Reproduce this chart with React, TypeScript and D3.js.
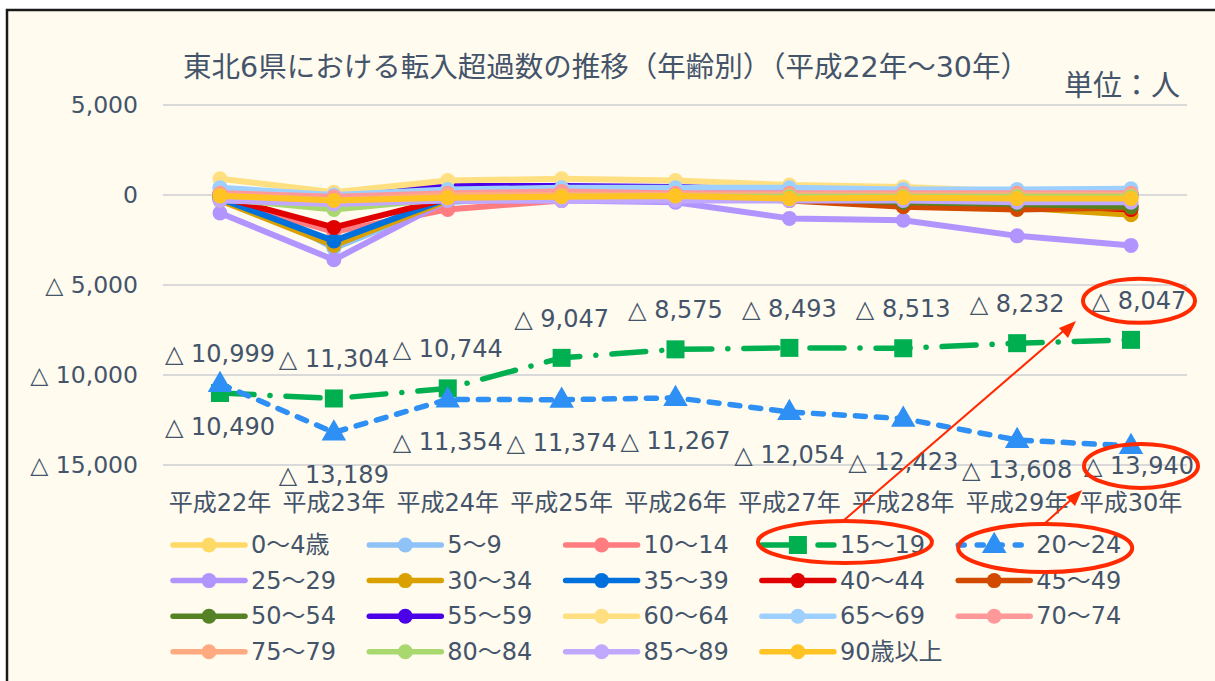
import React from "react";
import * as d3 from "d3";

// 平成22年〜30年, 東北6県の年齢別転入超過数（人）
const categories = ["平成22年", "平成23年", "平成24年", "平成25年", "平成26年", "平成27年", "平成28年", "平成29年", "平成30年"];

const age0_4 = [200, -2700, -200, 100, 100, 0, 0, -100, -200];
const age5_9 = [400, -2950, -400, 0, 100, 0, 0, 0, 0];
const age10_14 = [-200, -2050, -800, -300, -200, -100, -100, -100, -100];
const age15_19 = [-10999, -11304, -10744, -9047, -8575, -8493, -8513, -8232, -8047];
const age20_24 = [-10490, -13189, -11354, -11374, -11267, -12054, -12423, -13608, -13940];
const age25_29 = [-1000, -3600, -300, -300, -400, -1300, -1400, -2270, -2800];
const age30_34 = [-300, -2800, -300, -100, -100, -200, -400, -700, -1100];
const age35_39 = [-200, -2550, -200, -100, -100, -100, -200, -400, -600];
const age40_44 = [-100, -1800, -200, -100, -100, -100, -300, -500, -800];
const age45_49 = [-100, -600, -100, -100, -100, -300, -650, -800, -700];
const age50_54 = [-100, -400, -100, -50, -100, -200, -400, -500, -650];
const age55_59 = [100, 0, 500, 500, 450, 300, 200, 100, 100];
const age60_64 = [900, 150, 800, 900, 800, 550, 450, 200, 200];
const age65_69 = [400, 0, 300, 400, 400, 400, 300, 300, 350];
const age70_74 = [100, -100, 100, 200, 100, 100, 100, 100, 100];
const age75_79 = [0, -300, 0, 0, 0, 0, 0, 0, 0];
const age80_84 = [-200, -800, -200, -100, -100, -100, -100, -100, -100];
const age85_89 = [-300, -500, -300, -300, -300, -300, -300, -400, -400];
const age90 = [-50, -300, -150, -100, -50, -200, -150, -200, -200];

const seriesNames = ["0～4歳", "5～9", "10～14", "15～19", "20～24", "25～29", "30～34", "35～39", "40～44", "45～49", "50～54", "55～59", "60～64", "65～69", "70～74", "75～79", "80～84", "85～89", "90歳以上"];
const seriesValues = [age0_4, age5_9, age10_14, age15_19, age20_24, age25_29, age30_34, age35_39, age40_44, age45_49, age50_54, age55_59, age60_64, age65_69, age70_74, age75_79, age80_84, age85_89, age90];
const seriesColors = ["#FFD966", "#8FC3F7", "#FF7C80", "#00B050", "#2E8FF5", "#B294FF", "#D9A000", "#0070DD", "#E00000", "#D24A00", "#548224", "#4B00E8", "#FFDF80", "#9DCFFF", "#FF9999", "#FFAA80", "#A9D86E", "#C0A8FF", "#FFC423"];
const yTicks = [5000, 0, -5000, -10000, -15000];

// label nudges (the last two 20～24 labels sit higher to clear the axis)
const lowLabelDy = [51, 51, 51, 51, 51, 51, 51, 38, 28];
const labelDx = [0, 0, 0, 0, 0, 0, 0, 0, 8];

const W = 1215;
const H = 681;
const TXT = "#44546A";
const FONT = "'DejaVu Sans', 'Noto Sans CJK JP', sans-serif";
const RED = "#FF2A00";

const fmt = (v: number) => (v < 0 ? "△ " + d3.format(",")(-v) : d3.format(",")(v));

const styleOf = (i: number) => {
  if (i === 3) return { dash: "34 16 0.1 16", marker: "square" };
  if (i === 4) return { dash: "10 11", marker: "triangle" };
  return { dash: null, marker: "circle" };
};

const Marker = ({ kind, x, y, color }: { kind: string; x: number; y: number; color: string }) => {
  if (kind === "square") return <rect x={x - 9} y={y - 9} width={18} height={18} fill={color} />;
  if (kind === "triangle") {
    const tri = d3.symbol(d3.symbolTriangle, 260)();
    return <path d={tri as string} transform={`translate(${x},${y + 1})`} fill={color} />;
  }
  return <circle cx={x} cy={y} r={7.5} fill={color} />;
};

export default function App() {
  const x = d3.scalePoint().domain(categories).range([220, 1131]);
  const y = d3.scaleLinear().domain([-15000, 5000]).range([465, 105]);
  const line = d3
    .line<number>()
    .x((_, i) => x(categories[i]) as number)
    .y((d) => y(d));

  const legX = (c: number) => 173 + c * 196.3;
  const legY = (r: number) => 545 + r * 35.6;

  const last = categories.length - 1;
  const lx30 = (x(categories[last]) as number) + labelDx[last];
  const hiY = y(age15_19[last]) - 31;
  const loY = y(age20_24[last]) + lowLabelDy[last];

  return (
    <svg width={W} height={H} style={{ position: "absolute", left: 0, top: 0 }} fontFamily={FONT}>
      <rect x={0} y={0} width={W} height={H} fill="#fff" />
      <rect x={7} y={10} width={W + 20} height={H + 20} fill="#FFFBEF" stroke="#1a1a1a" strokeWidth={2.5} />

      <text x={606} y={77} textAnchor="middle" fontSize={28.5} fill={TXT}>
        東北6県における転入超過数の推移（年齢別）（平成22年～30年）
      </text>
      <text x={1180} y={96} textAnchor="end" fontSize={29} fill={TXT}>
        単位：人
      </text>

      {yTicks.map((t) => (
        <g key={t}>
          <line x1={163} x2={1187} y1={y(t)} y2={y(t)} stroke="#D9D9D9" strokeWidth={2} />
          <text x={138} y={y(t) + 8} textAnchor="end" fontSize={23.5} fill={TXT}>
            {fmt(t)}
          </text>
        </g>
      ))}

      {categories.map((c) => (
        <text key={c} x={x(c)} y={511} textAnchor="middle" fontSize={24} fill={TXT}>
          {c}
        </text>
      ))}

      {seriesNames.map((name, i) => {
        const st = styleOf(i);
        const vals = seriesValues[i];
        return (
          <g key={name}>
            <path
              d={line(vals) as string}
              fill="none"
              stroke={seriesColors[i]}
              strokeWidth={st.dash ? 5.5 : 6}
              strokeLinecap="round"
              strokeLinejoin="round"
              strokeDasharray={st.dash ?? undefined}
            />
            {vals.map((v, j) => (
              <Marker key={j} kind={st.marker} x={x(categories[j]) as number} y={y(v)} color={seriesColors[i]} />
            ))}
          </g>
        );
      })}

      {age15_19.map((v, j) => (
        <text key={"a" + j} x={(x(categories[j]) as number) + labelDx[j]} y={y(v) - 31} textAnchor="middle" fontSize={24} fill={TXT}>
          {fmt(v)}
        </text>
      ))}
      {age20_24.map((v, j) => (
        <text key={"b" + j} x={(x(categories[j]) as number) + labelDx[j]} y={y(v) + lowLabelDy[j]} textAnchor="middle" fontSize={24} fill={TXT}>
          {fmt(v)}
        </text>
      ))}

      {seriesNames.map((name, i) => {
        const c = i % 5;
        const r = Math.floor(i / 5);
        const st = styleOf(i);
        const lx = legX(c);
        const ly = legY(r);
        return (
          <g key={"leg" + name}>
            <line
              x1={lx}
              x2={lx + 72}
              y1={ly}
              y2={ly}
              stroke={seriesColors[i]}
              strokeWidth={5.5}
              strokeLinecap="round"
              strokeDasharray={st.dash ? (i === 3 ? "28 14 0.1 14" : "6 13") : undefined}
            />
            <Marker kind={st.marker} x={lx + 36} y={ly} color={seriesColors[i]} />
            <text x={lx + 78} y={ly + 8} fontSize={24} fill={TXT}>
              {name}
            </text>
          </g>
        );
      })}

      {/* annotations */}
      <g fill="none" stroke={RED}>
        <ellipse cx={lx30} cy={hiY - 8} rx={56} ry={22} strokeWidth={4} />
        <ellipse cx={lx30 + 2} cy={loY - 8} rx={57} ry={22} strokeWidth={4} />
        <ellipse cx={legX(3) + 83} cy={legY(0) - 3} rx={87} ry={21} strokeWidth={4} />
        <ellipse cx={legX(4) + 87} cy={legY(0) + 3} rx={87} ry={24} strokeWidth={4} />
        <line x1={843} y1={521} x2={1068} y2={327} strokeWidth={2} />
        <line x1={1043} y1={525} x2={1074} y2={497} strokeWidth={2} />
      </g>
      <path d="M1076,321 L1059,328 L1068,338 Z" fill={RED} />
      <path d="M1082,490 L1066,497 L1075,506 Z" fill={RED} />
    </svg>
  );
}
